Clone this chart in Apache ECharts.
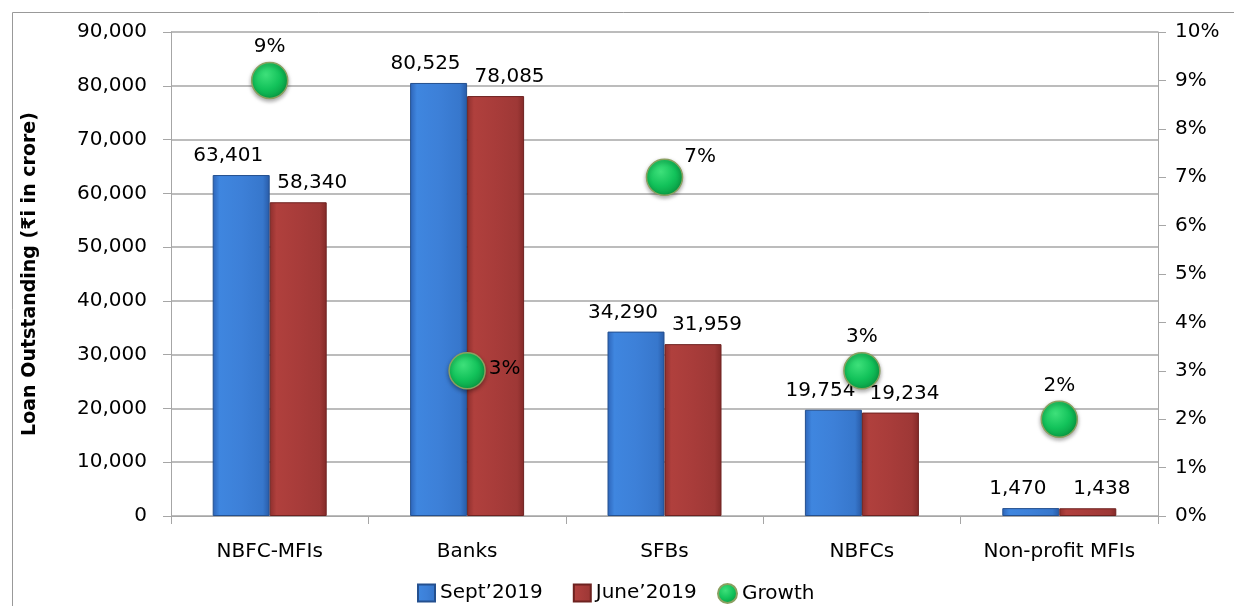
<!DOCTYPE html>
<html>
<head>
<meta charset="utf-8">
<script src="https://cdn.jsdelivr.net/npm/echarts@6/dist/echarts.min.js"></script>
<style>html,body{margin:0;padding:0;background:#fff}#c{width:1234px;height:606px}</style>
</head>
<body>
<div id="c"></div>
<script>
const categories = ['NBFC-MFIs', 'Banks', 'SFBs', 'NBFCs', 'Non-profit MFIs'];
const sept2019 = [63401, 80525, 34290, 19754, 1470];
const june2019 = [58340, 78085, 31959, 19234, 1438];
const growth = [9, 3, 7, 3, 2];
const leftTicks = [0, 10000, 20000, 30000, 40000, 50000, 60000, 70000, 80000, 90000];
const rightTicks = [0, 1, 2, 3, 4, 5, 6, 7, 8, 9, 10];

const FONT = '"DejaVu Sans", "Liberation Sans", sans-serif';
const FS = 20;
const fmt = v => v.toLocaleString('en-US');
const gray = '#a6a6a6';

const blueGrad = new echarts.graphic.LinearGradient(0, 0, 1, 0, [
  {offset: 0, color: '#2d64b8'}, {offset: 0.12, color: '#3f86df'},
  {offset: 0.5, color: '#3d80d8'}, {offset: 0.88, color: '#3777cc'}, {offset: 1, color: '#285aa6'}
]);
const redGrad = new echarts.graphic.LinearGradient(0, 0, 1, 0, [
  {offset: 0, color: '#8e2f2d'}, {offset: 0.12, color: '#b0403d'},
  {offset: 0.5, color: '#a83c3a'}, {offset: 0.88, color: '#9e3836'}, {offset: 1, color: '#832a28'}
]);
const greenGrad = new echarts.graphic.RadialGradient(0.4, 0.35, 0.65, [
  {offset: 0, color: '#3ee07a'}, {offset: 0.6, color: '#12c25a'}, {offset: 1, color: '#0a9e45'}
]);

const growthLabelPos = ['top', 'right', 'right', 'top', 'top'];
const growthLabelOffset = [[0, 0], [-2, -2], [-4, -20], [0, 0], [0, 0]];

const chart = echarts.init(document.getElementById('c'), null, {renderer: 'canvas'});
chart.setOption({
  animation: false,
  textStyle: {fontFamily: FONT},
  graphic: [{
    type: 'rect', shape: {x: 12.5, y: 12.5, width: 1240, height: 620},
    style: {fill: 'none', stroke: '#999', lineWidth: 1}, silent: true
  }],
  grid: {left: 171, right: 76, top: 32, bottom: 90},
  legend: [{
    top: 578, left: 412, itemGap: 30, itemWidth: 17, itemHeight: 17,
    textStyle: {fontFamily: FONT, fontSize: FS, color: '#000'},
    data: [
      {name: "Sept’2019", icon: 'rect'},
      {name: "June’2019", icon: 'rect'}
    ]
  }, {
    top: 578, left: 712, itemWidth: 19, itemHeight: 19,
    textStyle: {fontFamily: FONT, fontSize: FS, color: '#000'},
    data: [{name: 'Growth', icon: 'circle'}]
  }],
  xAxis: {
    type: 'category', data: categories,
    axisLine: {lineStyle: {color: gray}},
    axisTick: {show: true, length: 8, lineStyle: {color: gray}},
    axisLabel: {fontFamily: FONT, fontSize: FS, color: '#000', margin: 26}
  },
  yAxis: [{
    type: 'value', min: 0, max: 90000, interval: 10000,
    name: 'Loan Outstanding (₹i in crore)', nameLocation: 'middle', nameGap: 131,
    nameTextStyle: {fontFamily: FONT, fontSize: 19, fontWeight: 'bold', color: '#000'},
    axisLine: {show: true, lineStyle: {color: gray}},
    axisTick: {show: true, length: 8, lineStyle: {color: gray}},
    axisLabel: {fontFamily: FONT, fontSize: FS, color: '#000', margin: 24, formatter: v => fmt(v)},
    splitLine: {show: true, lineStyle: {color: gray, width: 1.5}}
  }, {
    type: 'value', min: 0, max: 10, interval: 1, position: 'right',
    axisLine: {show: true, lineStyle: {color: gray}},
    axisTick: {show: true, length: 8, lineStyle: {color: gray}},
    axisLabel: {fontFamily: FONT, fontSize: FS, color: '#000', margin: 17, formatter: v => v + '%'},
    splitLine: {show: false}
  }],
  series: [{
    name: "Sept’2019", type: 'bar', data: sept2019, barWidth: 57, barGap: '0%',
    itemStyle: {color: blueGrad, borderColor: '#24508f', borderWidth: 1},
    label: {show: true, position: 'top', distance: 9, offset: [-13, 0], fontFamily: FONT, fontSize: FS, color: '#000', formatter: p => fmt(p.value)}
  }, {
    name: "June’2019", type: 'bar', data: june2019, barWidth: 57, barGap: '0%',
    itemStyle: {color: redGrad, borderColor: '#6e2220', borderWidth: 1},
    label: {show: true, position: 'top', distance: 9, offset: [14, 0], fontFamily: FONT, fontSize: FS, color: '#000', formatter: p => fmt(p.value)}
  }, {
    name: 'Growth', type: 'line', yAxisIndex: 1,
    data: growth.map((v, i) => ({
      value: v,
      label: {position: growthLabelPos[i], offset: growthLabelOffset[i]}
    })),
    lineStyle: {width: 0, opacity: 0},
    symbol: 'circle', symbolSize: 36,
    itemStyle: {color: greenGrad, borderColor: '#8aa060', borderWidth: 1.5,
      shadowColor: 'rgba(0,0,0,0.35)', shadowBlur: 4, shadowOffsetY: 2},
    label: {show: true, fontFamily: FONT, fontSize: FS, color: '#000', formatter: p => p.value + '%'},
    z: 5
  }]
});
</script>
</body>
</html>
